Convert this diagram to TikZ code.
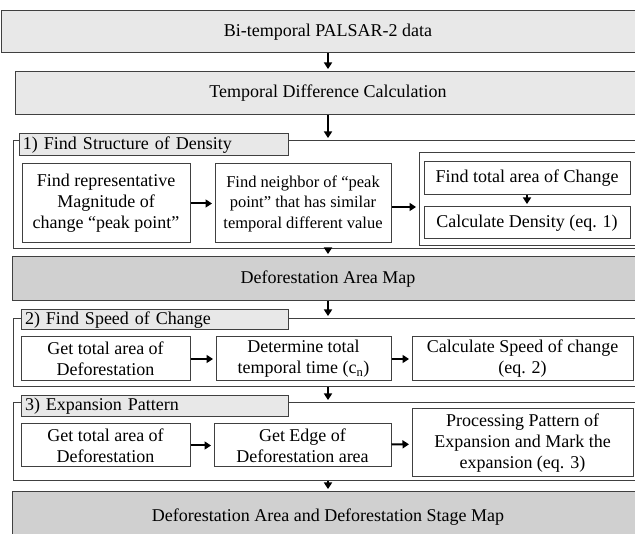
\documentclass[tikz,border=0pt]{standalone}
\usepackage{fontspec}
\setmainfont{Liberation Serif}
\usetikzlibrary{arrows.meta,positioning}
\definecolor{cBar}{HTML}{E8E8E8}
\definecolor{cMap}{HTML}{D0D0D0}
\definecolor{cLine}{HTML}{404040}
\newcommand{\bodyfont}{\fontsize{18}{21}\selectfont}
\tikzset{
  bar/.style={draw=cLine,fill=cBar,line width=1pt,inner sep=0pt,font=\bodyfont},
  mapbar/.style={bar,fill=cMap},
  grp/.style={draw=cLine,line width=1pt,inner sep=0pt},
  tab/.style={draw=cLine,fill=cBar,line width=1pt,inner xsep=4pt,inner ysep=0pt,align=left,font=\bodyfont},
  stepbox/.style={draw=cLine,fill=white,line width=1pt,inner sep=0pt,align=center,font=\bodyfont},
  arr/.style={-{Triangle[width=8pt,length=6.5pt]},line width=2pt,shorten >=2.5pt},
}

\begin{document}
\begin{tikzpicture}[x=1pt,y=-1pt]
  \useasboundingbox (0,0) rectangle (635,534);
  \clip (0,0) rectangle (635,534);
  \node[bar,minimum width=653pt,minimum height=42pt] (top) at (328,32) {Bi-temporal PALSAR-2 data};
  \node[bar,minimum width=626pt,minimum height=43pt] (diff) at (328,93.5) {Temporal Difference Calculation};
  % 1) density
  \node[grp,minimum width=630pt,minimum height=108pt] (s1) at (328,195) {};
  \node[tab,minimum height=22pt,text width=261pt] (tab1) at (153.5,145) {1) Find Structure of Density};
  \node[stepbox,minimum width=168pt,minimum height=79pt] (peak) at (106,203.5) {Find representative\\Magnitude of\\change “peak point”};
  \node[stepbox,minimum width=176pt,minimum height=79pt,font=\fontsize{16.5}{20.5}\selectfont] (nbr) at (303,203.5) {Find neighbor of “peak\\point” that has similar\\temporal different value};
  \node[grp,minimum width=221pt,minimum height=93pt] (g1) at (529.5,199.5) {};
  \node[stepbox,minimum width=206pt,minimum height=33pt] (area) at (527,178.5) {Find total area of Change};
  \node[stepbox,minimum width=206pt,minimum height=32pt] (dens) at (527,223) {Calculate Density (eq. 1)};
  \draw[arr] (peak) -- (nbr);
  \draw[arr] ([yshift=-3.5pt]nbr.east) -- ([yshift=-3.5pt]nbr.east -| g1.west);
  \draw[arr] (area) -- (dens);
  \node[mapbar,minimum width=632pt,minimum height=44pt] (map) at (328,279) {Deforestation Area Map};
  % 2) speed
  \node[grp,minimum width=630pt,minimum height=68pt] (s2) at (328,353) {};
  \node[tab,minimum height=20pt,text width=259pt] (tab2) at (154.5,320) {2) Find Speed of Change};
  \node[stepbox,minimum width=169pt,minimum height=44pt] (tot2) at (105.5,359) {Get total area of\\Deforestation};
  \node[stepbox,minimum width=175pt,minimum height=44pt] (time) at (303.5,359) {Determine total\\temporal time (c\textsubscript{n})};
  \node[stepbox,minimum width=221pt,minimum height=44pt] (speed) at (522.5,359) {Calculate Speed of change\\(eq. 2)};
  \draw[arr] (tot2) -- (time);
  \draw[arr] (time) -- (speed);
  % 3) expansion
  \node[grp,minimum width=630pt,minimum height=78pt] (s3) at (328,442) {};
  \node[tab,minimum height=21pt,text width=259pt] (tab3) at (154.5,406.5) {3) Expansion Pattern};
  \node[stepbox,minimum width=169pt,minimum height=43pt] (tot3) at (105.5,445.5) {Get total area of\\Deforestation};
  \node[stepbox,minimum width=177pt,minimum height=43pt] (edge) at (302.5,445.5) {Get Edge of\\Deforestation area};
  \node[stepbox,minimum width=221pt,minimum height=68pt] (pat) at (522.5,443) {Processing Pattern of\\Expansion and Mark the\\expansion (eq. 3)};
  \draw[arr] (tot3) -- (edge);
  \draw[arr] (edge) -- (pat);
  \node[mapbar,minimum width=632pt,minimum height=50pt] (stage) at (328,517) {Deforestation Area and Deforestation Stage Map};
  % main flow
  \draw[arr] (top) -- (diff);
  \draw[arr] (diff) -- (s1);
  \draw[arr] (s1) -- (map);
  \draw[arr] (map) -- (s2);
  \draw[arr] (s2) -- (s3);
  \draw[arr] (s3) -- (stage);
\end{tikzpicture}
\end{document}
